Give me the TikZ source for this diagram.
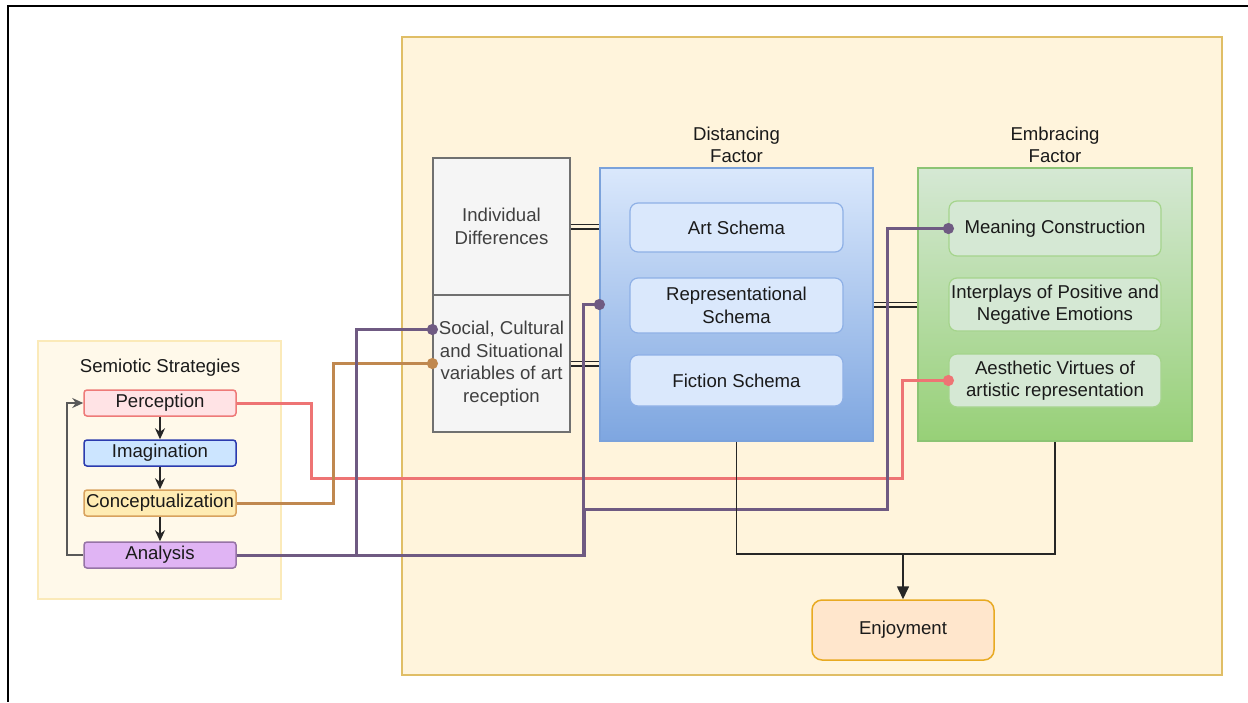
\documentclass[tikz,border=0pt]{standalone}
\usepackage{fontspec}
\setmainfont{Liberation Sans}
\usepackage{tikz}
\usetikzlibrary{arrows,arrows.meta,positioning}

\definecolor{bigfill}{HTML}{FFF4DC}
\definecolor{bigline}{HTML}{E0BE66}
\definecolor{semfill}{HTML}{FFF9EA}
\definecolor{semline}{HTML}{FBEAB9}
\definecolor{percfill}{HTML}{FFE3E5}
\definecolor{percline}{HTML}{EE7A78}
\definecolor{imagfill}{HTML}{CCE5FF}
\definecolor{imagline}{HTML}{2B3BAE}
\definecolor{concfill}{HTML}{FFECB3}
\definecolor{concline}{HTML}{D8A25E}
\definecolor{anafill}{HTML}{E0B4F4}
\definecolor{analine}{HTML}{9673A6}
\definecolor{disttop}{HTML}{DAE8FC}
\definecolor{distbot}{HTML}{7EA6E0}
\definecolor{distline}{HTML}{7BA2DB}
\definecolor{schemaline}{HTML}{8EB0E6}
\definecolor{embtop}{HTML}{D5E8D4}
\definecolor{embbot}{HTML}{97D077}
\definecolor{embline}{HTML}{8CC474}
\definecolor{virtueline}{HTML}{A5D48C}
\definecolor{enjfill}{HTML}{FFE6CC}
\definecolor{enjline}{HTML}{E8AA22}
\definecolor{redlane}{HTML}{EE7474}
\definecolor{orangelane}{HTML}{C0884F}
\definecolor{purplelane}{HTML}{6F5A82}
\definecolor{greyfill}{HTML}{F5F5F5}
\definecolor{greyline}{HTML}{707070}
\definecolor{ink}{HTML}{1A1A1A}

\tikzset{
	every node/.style={font=\fontsize{18.6}{22.5}\selectfont, text=ink, align=center, inner sep=1pt},
	group/.style={draw=#1line, fill=#1fill, line width=1.2pt},
	stage/.style={draw=#1line, fill=#1fill, rounded corners=3pt, line width=1.5pt, minimum width=152, minimum height=26},
	factor/.style={draw=#1line, top color=#1top, bottom color=#1bot, line width=1.2pt, minimum width=273, minimum height=273},
	schema/.style={draw=schemaline, fill=disttop, rounded corners=8pt, line width=1.2pt, minimum width=213},
	virtue/.style={draw=virtueline, fill=embtop, rounded corners=8pt, line width=1.2pt, minimum width=212},
	varbox/.style={draw=greyline, fill=greyfill, line width=1.2pt, minimum width=137, minimum height=137, text=black!75},
	flow/.style={draw=black!85, line width=1.6pt},
	link/.style={draw=black!85, line width=1.5pt, double=bigfill, double distance=3pt},
	lane/.style={draw=#1, line width=3pt, arrows=-{Circle[length=11pt]}, shorten >=-5.5pt}
}

\begin{document}
\begin{tikzpicture}[x=1pt, y=-1pt]
	\useasboundingbox (0,0) rectangle (1248,702);
	\draw[line width=2pt] (1248,6) -| (8,702);

	\node[group=big, minimum width=820, minimum height=638] (frame) at (812,356) {};
	\node[group=sem, minimum width=243, minimum height=258] (sem) at (159.5,470) {};
	\node (semlbl) at (160,368) {Semiotic Strategies};

	\node[stage=perc] (perc) at (160,403) {Perception};
	\node[stage=imag] (imag) at (160,453) {Imagination};
	\node[stage=conc] (conc) at (160,503) {Conceptualization};
	\node[stage=ana] (ana) at (160,555) {Analysis};

	\node[varbox] (indiv) at (501.5,226.5) {Individual\\Differences};
	\node[varbox] (soc) at (501.5,363.5) {Social, Cultural\\and Situational\\variables of art\\reception};

	\node[factor=dist] (dist) at (736.5,304.5) {};
	\node (distlbl) at (736.5,145) {Distancing\\Factor};
	\node[schema, minimum height=49] (art) at (736.5,227.5) {Art Schema};
	\node[schema, minimum height=55] (rep) at (736.5,305.5) {Representational\\Schema};
	\node[schema, minimum height=51] (fic) at (736.5,380.5) {Fiction Schema};

	\node[factor=emb, minimum width=274] (emb) at (1055,304.5) {};
	\node (emblbl) at (1055,145) {Embracing\\Factor};
	\node[virtue, minimum height=55] (mc) at (1055,228.5) {Meaning Construction};
	\node[virtue, minimum height=53] (emo) at (1055,304.5) {Interplays of Positive and\\Negative Emotions};
	\node[virtue, minimum height=53] (aes) at (1055,380.5) {Aesthetic Virtues of\\artistic representation};

	\node[draw=enjline, fill=enjfill, rounded corners=10pt, line width=1.5pt, minimum width=182, minimum height=60] (enj) at (903,630) {Enjoyment};

	\draw[flow, arrows=-{Stealth[length=11pt, width=10pt]}] (perc) -- (imag);
	\draw[flow, arrows=-{Stealth[length=11pt, width=10pt]}] (imag) -- (conc);
	\draw[flow, arrows=-{Stealth[length=11pt, width=10pt]}] (conc) -- (ana);
	\draw[flow, draw=black!65, arrows=-{Stealth[length=11pt, width=10pt]}] (ana.west) -| ([xshift=-16pt]perc.west) -- (perc.west);

	\draw[link] (indiv.east) -- (indiv.east -| dist.west);
	\draw[link] (soc.east) -- (soc.east -| dist.west);
	\draw[link] (dist.east) -- (emb.west);

	\draw[lane=redlane] (perc.east) -| (311,478) -| ([xshift=-46pt]aes.west) -- (aes.west);
	\draw[lane=orangelane] (conc.east) -| ([xshift=-99pt]soc.west) -- (soc.west);
	\draw[lane=purplelane] (ana.east) -| ([xshift=-76pt, yshift=34pt]soc.west) -- ([yshift=34pt]soc.west);
	\draw[lane=purplelane] (ana.east) -| ([xshift=-16pt]dist.west) -- (dist.west);
	\draw[lane=purplelane] (ana.east) -| (584,509) -| ([xshift=-61pt]mc.west) -- (mc.west);

	\coordinate (join) at (903,554);
	\draw[flow] (dist.south) |- (join) -| (emb.south);
	\draw[flow, arrows=-{Triangle[length=13pt, width=12pt]}] (join) -- (enj.north);
\end{tikzpicture}
\end{document}
